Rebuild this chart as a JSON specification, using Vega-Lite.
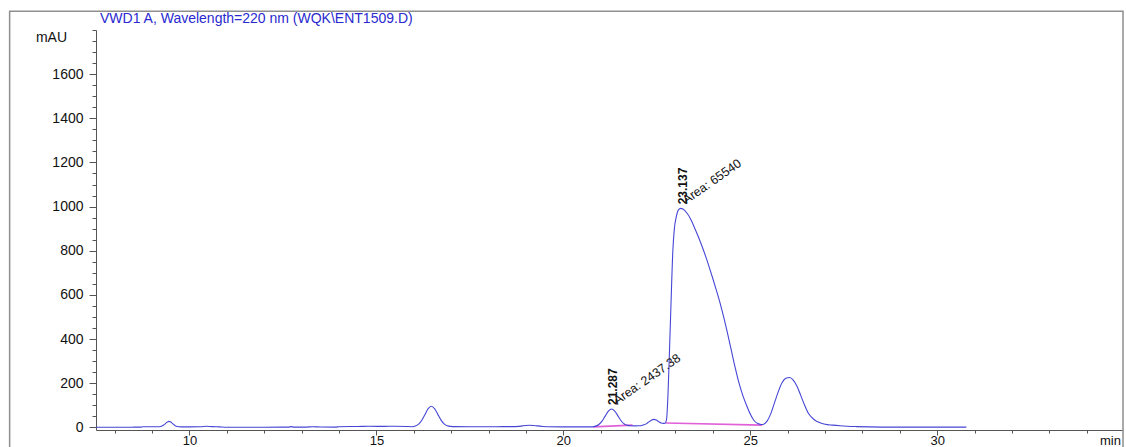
{
  "$schema": "https://vega.github.io/schema/vega-lite/v6.json",
  "width": 1027,
  "height": 400,
  "autosize": "none",
  "padding": {"left": 96, "top": 30, "right": 3, "bottom": 17},
  "background": "white",
  "config": {
    "view": {"stroke": null},
    "font": "Liberation Sans",
    "axis": {"grid": false, "domainColor": "#555555", "tickColor": "#555555", "labelColor": "#111111", "titleColor": "#111111", "labelFont": "Liberation Sans", "titleFont": "Liberation Sans"}
  },
  "title": {
    "text": "VWD1 A, Wavelength=220 nm (WQK\\ENT1509.D)",
    "anchor": "start",
    "frame": "group",
    "dx": 4,
    "offset": -16,
    "fontSize": 14,
    "fontWeight": "normal",
    "color": "#2a2ad0",
    "font": "Liberation Sans"
  },
  "datasets": {
    "trace": [
      {"t": 7.5, "v": 0.5}, {"t": 8.0, "v": 0.5}, {"t": 8.5, "v": 0.8}, {"t": 8.7, "v": 1}, {"t": 8.75, "v": 2.5},
      {"t": 9.0, "v": 2.5}, {"t": 9.2, "v": 3}, {"t": 9.25, "v": 5}, {"t": 9.3, "v": 9.5}, {"t": 9.35, "v": 16},
      {"t": 9.4, "v": 23}, {"t": 9.45, "v": 27}, {"t": 9.5, "v": 24}, {"t": 9.55, "v": 17}, {"t": 9.6, "v": 10},
      {"t": 9.65, "v": 5}, {"t": 9.72, "v": 3}, {"t": 9.85, "v": 2}, {"t": 10.0, "v": 2}, {"t": 10.3, "v": 2.5},
      {"t": 10.45, "v": 5}, {"t": 10.6, "v": 3.5}, {"t": 10.8, "v": 2}, {"t": 11.0, "v": 0.5}, {"t": 11.5, "v": 0.5},
      {"t": 12.0, "v": 0.5}, {"t": 12.5, "v": 0.8}, {"t": 12.65, "v": 1}, {"t": 12.72, "v": 3.5}, {"t": 12.8, "v": 1},
      {"t": 13.1, "v": 1}, {"t": 13.3, "v": 3}, {"t": 13.5, "v": 1.5}, {"t": 13.9, "v": 1}, {"t": 14.0, "v": 3},
      {"t": 14.5, "v": 4}, {"t": 14.8, "v": 5}, {"t": 15.2, "v": 4.5}, {"t": 15.5, "v": 5}, {"t": 15.8, "v": 4},
      {"t": 15.95, "v": 3}, {"t": 16.045, "v": 6}, {"t": 16.13, "v": 14.5}, {"t": 16.215, "v": 32}, {"t": 16.3, "v": 58.5},
      {"t": 16.385, "v": 84.5}, {"t": 16.47, "v": 95.5}, {"t": 16.555, "v": 85}, {"t": 16.64, "v": 60}, {"t": 16.725, "v": 34},
      {"t": 16.81, "v": 16}, {"t": 16.895, "v": 7.5}, {"t": 16.98, "v": 4.5}, {"t": 17.1, "v": 3.5}, {"t": 17.5, "v": 3},
      {"t": 17.8, "v": 2.5}, {"t": 18.2, "v": 3}, {"t": 18.6, "v": 3.5}, {"t": 18.8, "v": 4.5}, {"t": 18.9, "v": 6.5},
      {"t": 19.0, "v": 8.5}, {"t": 19.1, "v": 9.5}, {"t": 19.2, "v": 8.5}, {"t": 19.3, "v": 6.5}, {"t": 19.45, "v": 4},
      {"t": 19.6, "v": 2.5}, {"t": 20.0, "v": 2}, {"t": 20.5, "v": 2}, {"t": 20.78, "v": 2}, {"t": 20.865, "v": 5.5},
      {"t": 20.95, "v": 13}, {"t": 21.035, "v": 28}, {"t": 21.12, "v": 51}, {"t": 21.205, "v": 73}, {"t": 21.29, "v": 83},
      {"t": 21.375, "v": 74}, {"t": 21.46, "v": 52}, {"t": 21.545, "v": 30}, {"t": 21.63, "v": 15}, {"t": 21.715, "v": 9},
      {"t": 21.8, "v": 7}, {"t": 21.9, "v": 6.5}, {"t": 22.03, "v": 7}, {"t": 22.095, "v": 8.5}, {"t": 22.16, "v": 11.5},
      {"t": 22.225, "v": 17}, {"t": 22.29, "v": 25}, {"t": 22.355, "v": 32.5}, {"t": 22.42, "v": 36}, {"t": 22.485, "v": 33},
      {"t": 22.55, "v": 26}, {"t": 22.615, "v": 20}, {"t": 22.68, "v": 18}, {"t": 22.72, "v": 19}, {"t": 22.76, "v": 35},
      {"t": 22.8, "v": 150}, {"t": 22.84, "v": 349}, {"t": 22.88, "v": 560}, {"t": 22.93, "v": 802}, {"t": 22.97, "v": 900},
      {"t": 23.02, "v": 953}, {"t": 23.08, "v": 985}, {"t": 23.137, "v": 992}, {"t": 23.2, "v": 989}, {"t": 23.3, "v": 972},
      {"t": 23.4, "v": 945}, {"t": 23.5, "v": 908}, {"t": 23.6, "v": 868}, {"t": 23.7, "v": 825}, {"t": 23.8, "v": 778},
      {"t": 23.9, "v": 727}, {"t": 24.0, "v": 673}, {"t": 24.1, "v": 617}, {"t": 24.2, "v": 558}, {"t": 24.3, "v": 492},
      {"t": 24.4, "v": 420}, {"t": 24.5, "v": 344}, {"t": 24.6, "v": 268}, {"t": 24.7, "v": 200}, {"t": 24.8, "v": 145},
      {"t": 24.9, "v": 100}, {"t": 25.0, "v": 60}, {"t": 25.1, "v": 31}, {"t": 25.2, "v": 17}, {"t": 25.29, "v": 13},
      {"t": 25.34, "v": 13}, {"t": 25.45, "v": 28}, {"t": 25.55, "v": 62}, {"t": 25.65, "v": 112}, {"t": 25.75, "v": 162},
      {"t": 25.85, "v": 202}, {"t": 25.95, "v": 222}, {"t": 26.05, "v": 226}, {"t": 26.15, "v": 214}, {"t": 26.25, "v": 186},
      {"t": 26.35, "v": 145}, {"t": 26.45, "v": 102}, {"t": 26.55, "v": 65}, {"t": 26.65, "v": 44}, {"t": 26.75, "v": 30},
      {"t": 26.85, "v": 22}, {"t": 27.0, "v": 14}, {"t": 27.2, "v": 10}, {"t": 27.4, "v": 7}, {"t": 27.6, "v": 5},
      {"t": 27.84, "v": 3.5}, {"t": 28.2, "v": 2}, {"t": 28.8, "v": 1}, {"t": 29.5, "v": 1}, {"t": 30.78, "v": 1}
    ],
    "base": [
      {"seg": "a", "t": 20.8, "v": 2}, {"seg": "a", "t": 21.85, "v": 10},
      {"seg": "b", "t": 22.74, "v": 20}, {"seg": "b", "t": 25.32, "v": 10}
    ],
    "peaks": [
      {"t": 21.287, "h": 83, "rt": "21.287", "area": "Area: 2437.38"},
      {"t": 23.137, "h": 992, "rt": "23.137", "area": "Area: 65540"}
    ],
    "frame": [{"x1": 5.19, "x2": 34.97, "y1": 1885, "y2": -150}]
  },
  "layer": [
    {
      "data": {"name": "frame"},
      "mark": {"type": "rect", "filled": false, "stroke": "#8f8f8f", "strokeWidth": 1.5, "clip": false},
      "encoding": {
        "x": {"field": "x1", "type": "quantitative", "scale": {"domain": [7.5, 34.97], "nice": false, "zero": false}, "axis": null},
        "x2": {"field": "x2"},
        "y": {"field": "y1", "type": "quantitative", "scale": {"domain": [-12, 1800], "nice": false, "zero": false}, "axis": null},
        "y2": {"field": "y2"}
      }
    },
    {
      "data": {"name": "base"},
      "mark": {"type": "line", "color": "#e060d8", "strokeWidth": 1.6},
      "encoding": {
        "x": {"field": "t", "type": "quantitative", "axis": {"orient": "bottom", "values": [8, 9, 11, 12, 13, 14, 16, 17, 18, 19, 21, 22, 23, 24, 26, 27, 28, 29, 31, 32, 33, 34], "tickSize": 3, "labels": false, "domain": false, "title": null}},
        "y": {"field": "v", "type": "quantitative", "axis": {"orient": "left", "values": [50, 100, 150, 250, 300, 350, 450, 500, 550, 650, 700, 750, 850, 900, 950, 1050, 1100, 1150, 1250, 1300, 1350, 1450, 1500, 1550, 1650, 1700, 1750, 1800], "tickSize": 4, "labels": false, "domain": false, "title": null}},
        "detail": {"field": "seg"}
      }
    },
    {
      "data": {"name": "trace"},
      "mark": {"type": "line", "color": "#4646d6", "strokeWidth": 1.1, "interpolate": "monotone"},
      "encoding": {
        "x": {"field": "t", "type": "quantitative", "axis": {"orient": "bottom", "values": [10, 15, 20, 25, 30], "format": "d", "tickSize": 5, "labelPadding": -1, "labelFontSize": 13, "title": "min", "titleX": 1014, "titleY": 10, "titleAlign": "center", "titleBaseline": "middle", "titleFontSize": 13, "titleFontWeight": "normal"}},
        "y": {"field": "v", "type": "quantitative", "axis": {"orient": "left", "values": [0, 200, 400, 600, 800, 1000, 1200, 1400, 1600], "format": "d", "tickSize": 7, "labelPadding": 6, "labelFontSize": 14, "title": "mAU", "titleAngle": 0, "titleX": -45, "titleY": 7, "titleAlign": "center", "titleBaseline": "middle", "titleFontSize": 14, "titleFontWeight": "normal"}}
      }
    },
    {
      "data": {"name": "peaks"},
      "mark": {"type": "text", "angle": 270, "align": "left", "baseline": "middle", "dx": 4, "dy": 2, "fontSize": 12, "fontWeight": "bold", "color": "#111111"},
      "encoding": {
        "x": {"field": "t", "type": "quantitative", "axis": null},
        "y": {"field": "h", "type": "quantitative", "axis": null},
        "text": {"field": "rt"}
      }
    },
    {
      "data": {"name": "peaks"},
      "mark": {"type": "text", "angle": 325, "align": "left", "baseline": "bottom", "dx": 7, "dy": 3, "fontSize": 12.5, "color": "#111111"},
      "encoding": {
        "x": {"field": "t", "type": "quantitative", "axis": null},
        "y": {"field": "h", "type": "quantitative", "axis": null},
        "text": {"field": "area"}
      }
    }
  ],
  "resolve": {"axis": {"x": "independent", "y": "independent"}}
}
